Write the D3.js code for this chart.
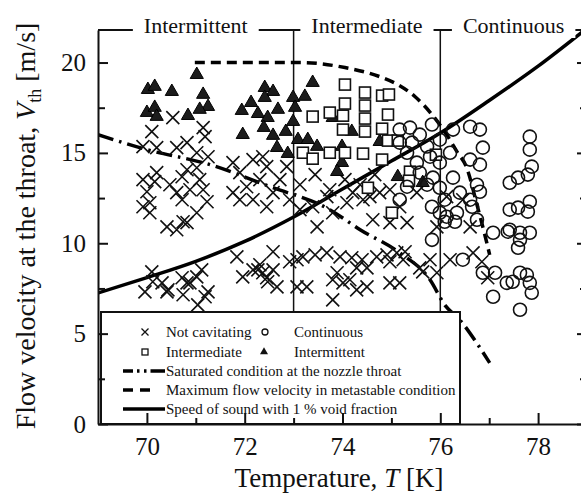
<!DOCTYPE html>
<html>
<head>
<meta charset="utf-8">
<script src="https://cdn.jsdelivr.net/npm/d3@7"></script>
<style>
  body { margin: 0; background: #fff; }
  svg { display: block; }
  text { font-family: "Liberation Serif", "Times New Roman", serif; fill: #111; }
</style>
</head>
<body>
<div id="chart"></div>
<script>
// Data: [temperature T (K), flow velocity V_th (m/s)]
const notCavitating = [
  [70.53,16.95],[70.10,16.18],[69.92,15.35],[70.20,15.29],[70.61,15.29],[70.82,15.57],[71.15,16.40],
  [71.19,15.90],[71.02,15.01],[71.25,14.79],[69.92,13.52],[70.16,13.41],[70.00,12.85],[70.47,13.24],
  [70.72,13.68],[70.82,14.07],[71.02,14.18],[71.08,13.52],[70.88,12.96],[70.61,12.80],[70.72,12.41],
  [71.15,12.96],[71.23,12.30],[69.92,12.02],[70.06,11.69],[70.41,10.91],[70.61,10.75],[70.82,11.14],
  [71.02,11.69],[70.20,13.91],[70.06,12.24],[70.74,11.19],
  [70.10,8.42],[69.96,7.31],[70.41,7.31],[70.82,7.81],[71.02,8.14],[71.04,6.59],[71.25,7.31],
  [70.74,7.15],[70.12,7.87],[70.31,7.81],[71.12,8.53],[70.88,7.81],[70.72,8.09],[71.19,7.04],[70.43,7.42],
  [71.84,9.25],[71.96,8.14],[72.17,8.53],[72.31,8.81],[72.58,9.53],[72.45,8.09],[72.66,7.59],
  [72.37,8.37],[72.92,8.98],[72.58,8.53],[72.27,8.53],[72.47,7.87],
  [71.76,14.46],[71.90,13.91],[72.17,14.63],[72.31,13.52],[71.90,12.41],[72.17,12.41],[72.45,12.02],
  [72.58,12.80],[72.72,13.52],[72.86,14.24],[72.45,14.24],[72.04,13.13],[72.37,14.79],[71.76,12.80],[72.92,12.41],
  [73.07,9.09],[73.19,9.25],[73.44,9.36],[73.68,9.47],[73.95,9.25],[74.19,9.20],[74.40,9.09],[74.70,9.25],
  [74.91,9.36],[75.11,9.47],[75.28,9.53],[74.97,8.98],[75.24,9.09],[74.50,8.64],[74.29,8.64],[73.89,8.37],
  [73.07,7.59],[73.27,7.59],[73.80,7.98],[74.01,7.81],[74.29,7.42],[74.50,7.59],[74.97,7.81],[75.17,7.81],
  [73.80,6.87],[74.15,7.98],[75.64,8.42],[75.79,9.09],[76.20,9.09],[75.93,8.37],[76.67,9.47],[76.85,8.98],
  [76.97,8.09],[75.58,8.64],
  [73.13,11.86],[73.39,12.02],[73.80,11.69],[74.09,12.24],[74.42,12.41],[74.62,11.30],[74.97,11.14],
  [75.17,12.02],[75.32,11.14],[75.52,12.80],[74.56,12.58],[75.93,10.91],[76.13,12.58],[76.46,12.41],
  [76.61,10.91],[73.68,12.58],[74.21,12.80],[74.76,12.80],[73.48,10.91],
  [73.13,13.24],[73.44,13.80],[73.74,12.96],[74.05,13.52],[74.36,13.24],[74.66,13.80],[74.97,12.96]
];
const continuous = [
  [75.83,16.57],[75.38,16.40],[75.58,16.01],[75.99,15.73],[76.26,16.29],[76.61,16.45],[76.81,16.29],
  [76.87,15.29],[76.61,14.63],[76.81,14.35],[76.20,15.01],[75.99,14.46],[76.26,13.63],[75.99,13.07],
  [75.85,13.63],[75.73,13.24],[75.32,13.13],[75.17,12.41],[76.75,13.24],[76.81,12.85],[76.61,12.41],
  [77.42,13.35],[75.17,16.29],[75.42,15.57],[76.65,12.02],[76.75,11.30],[76.40,12.80],[76.09,12.41],
  [75.99,11.69],[76.09,11.19],[75.83,12.02],[75.83,10.19],[76.34,11.69],[77.59,13.63],[77.79,13.80],
  [77.87,14.24],[77.83,15.18],[77.83,15.90],[77.42,11.86],[77.59,11.97],[77.83,12.30],[77.79,11.75],
  [77.42,10.75],[77.63,10.58],[77.83,10.58],[77.08,10.58],[75.58,13.91],[75.52,14.46],[75.73,15.35],
  [75.32,15.01],[75.79,14.79],[76.13,11.47],[76.30,11.19],[77.38,10.64],[77.63,10.19],[77.59,9.75],
  [76.46,9.09],[77.12,8.37],[77.36,7.81],[77.63,8.37],[77.83,7.81],[77.87,7.26],[77.08,7.04],
  [77.63,6.32],[77.48,7.87],[77.77,8.25],[76.87,8.37],[75.17,15.57]
];
const intermediate = [
  [74.05,18.78],[74.46,18.34],[74.81,18.17],[74.95,18.23],[73.39,17.01],[73.74,17.23],[74.05,17.73],
  [74.01,17.06],[74.46,17.62],[74.46,16.90],[74.93,17.12],[74.01,16.29],[74.46,16.18],[74.81,16.34],
  [74.93,15.68],[75.13,15.68],[73.19,15.01],[73.39,14.68],[73.74,15.01],[74.05,15.01],[74.42,14.96],
  [74.81,14.63],[75.38,13.96],[75.36,13.46],[75.91,14.90],[74.52,13.07],[75.01,11.69]
];
const intermittent = [
  [71.02,19.33],[70.02,18.50],[70.16,18.67],[70.51,18.39],[71.15,18.23],[71.25,17.56],[70.00,17.23],
  [70.16,17.51],[70.20,17.01],[70.84,17.06],[71.08,17.40],[71.94,17.34],[72.13,17.78],[72.41,18.61],
  [72.58,18.39],[72.41,18.06],[72.27,17.17],[72.47,16.95],[72.68,17.40],[72.99,18.06],[71.96,16.01],
  [72.39,16.40],[72.58,15.96],[72.84,16.18],[72.99,16.73],[72.66,15.29],[72.88,14.96],[73.09,15.73],
  [73.39,18.89],[73.23,18.12],[73.03,17.51],[73.29,15.73],[73.48,15.35],[73.99,15.35],[73.99,14.46],
  [73.89,13.96],[74.19,16.18],[73.80,16.95],[74.76,15.62],[75.13,13.68],[75.64,13.35]
];

// Curves
const saturatedLine = [
  [69.0,16.01],[70.0,15.18],[71.29,14.35],[72.52,13.13],[73.74,11.86],[74.36,10.75],[75.17,9.47],
  [75.79,7.98],[76.09,6.59],[76.40,5.76],[76.77,4.38],[77.01,3.38]
];
const metastableLine = [
  [70.98,20.0],[73.13,20.0],[74.05,19.72],[74.76,19.22],[75.13,18.78],[75.48,18.12],[75.83,17.12],
  [76.13,16.01],[76.34,15.07],[76.54,14.18],[76.75,12.13],[76.91,10.47],[77.01,9.36]
];
const soundSpeedLine = [
  [69,7.25],[70,8.1],[71,9.0],[72,10.1],[73,11.45],[74,13.0],[75,14.55],[76,16.1],[77,17.9],[78,19.8],[79,21.9]
];

// Axes and regions
const xMajorTicks = [70, 72, 74, 76, 78];
const xMinorTicks = [71, 73, 75, 77];
const yMajorTicks = [0, 5, 10, 15, 20];
const yMinorTicks = [2.5, 7.5, 12.5, 17.5];
const regionBounds = [73, 76];
const regionLabels = ["Intermittent", "Intermediate", "Continuous"];
const regionCenters = [71, 74.5, 77.5];

const width = 581, height = 499;

const svg = d3.select("#chart").append("svg")
  .attr("width", width)
  .attr("height", height);

const x = d3.scaleLinear().domain([69, 79]).range([98, 587]);
const y = d3.scaleLinear().domain([0, 21.8]).range([424, 30]);

// clip to the frame
svg.append("defs").append("clipPath").attr("id", "clip")
  .append("rect")
  .attr("x", x(69)).attr("y", y(21.8))
  .attr("width", x(79) - x(69)).attr("height", y(0) - y(21.8));

const plot = svg.append("g").attr("clip-path", "url(#clip)");

// region boundaries
plot.selectAll(".region-line")
  .data(regionBounds)
  .enter().append("line")
  .attr("x1", d => x(d)).attr("x2", d => x(d))
  .attr("y1", y(21.8)).attr("y2", y(0))
  .attr("stroke", "#111").attr("stroke-width", 1.5);

// curves
const line = d3.line()
  .x(d => x(d[0]))
  .y(d => y(d[1]))
  .curve(d3.curveMonotoneX);

plot.append("path").datum(soundSpeedLine)
  .attr("d", line).attr("fill", "none")
  .attr("stroke", "#000").attr("stroke-width", 3.5);

plot.append("path").datum(metastableLine)
  .attr("d", line).attr("fill", "none")
  .attr("stroke", "#000").attr("stroke-width", 3.5)
  .attr("stroke-dasharray", "10,6");

plot.append("path").datum(saturatedLine)
  .attr("d", line).attr("fill", "none")
  .attr("stroke", "#000").attr("stroke-width", 3.5)
  .attr("stroke-dasharray", "16,6,2.5,6");

// markers
plot.selectAll(".nc")
  .data(notCavitating)
  .enter().append("path")
  .attr("transform", d => `translate(${x(d[0])},${y(d[1])})`)
  .attr("d", "M-6.5,-6.5L6.5,6.5M-6.5,6.5L6.5,-6.5")
  .attr("stroke", "#111").attr("stroke-width", 1.6).attr("fill", "none");

plot.selectAll(".tri")
  .data(intermittent)
  .enter().append("path")
  .attr("transform", d => `translate(${x(d[0])},${y(d[1])})`)
  .attr("d", d3.symbol(d3.symbolTriangle, 75))
  .attr("fill", "#1c1c1c").attr("stroke", "#000").attr("stroke-width", 1);

plot.selectAll(".sq")
  .data(intermediate)
  .enter().append("rect")
  .attr("x", d => x(d[0]) - 5.5).attr("y", d => y(d[1]) - 5.5)
  .attr("width", 11).attr("height", 11)
  .attr("fill", "#fff").attr("stroke", "#111").attr("stroke-width", 1.6);

plot.selectAll(".ci")
  .data(continuous)
  .enter().append("circle")
  .attr("cx", d => x(d[0])).attr("cy", d => y(d[1]))
  .attr("r", 6.5)
  .attr("fill", "none").attr("stroke", "#111").attr("stroke-width", 1.6);

// legend
const legend = svg.append("g");
legend.append("rect")
  .attr("x", 101).attr("y", 312).attr("width", 359).attr("height", 112)
  .attr("fill", "#fff").attr("stroke", "#111").attr("stroke-width", 2);

const rowY = [332, 352, 371, 390, 409];
const legendText = (tx, ty, s) => legend.append("text")
  .attr("x", tx).attr("y", ty + 5).attr("font-size", 15).text(s);

legend.append("path").attr("transform", `translate(145,${rowY[0]})`)
  .attr("d", "M-3.5,-3.5L3.5,3.5M-3.5,3.5L3.5,-3.5")
  .attr("stroke", "#111").attr("stroke-width", 1.3);
legendText(166, rowY[0], "Not cavitating");
legend.append("circle").attr("cx", 265).attr("cy", rowY[0]).attr("r", 3)
  .attr("fill", "none").attr("stroke", "#111").attr("stroke-width", 1.3);
legendText(294, rowY[0], "Continuous");

legend.append("rect").attr("x", 142).attr("y", rowY[1] - 3).attr("width", 6).attr("height", 6)
  .attr("fill", "none").attr("stroke", "#111").attr("stroke-width", 1.3);
legendText(166, rowY[1], "Intermediate");
legend.append("path").attr("transform", `translate(264,${rowY[1]})`)
  .attr("d", d3.symbol(d3.symbolTriangle, 28)).attr("fill", "#111");
legendText(294, rowY[1], "Intermittent");

legend.append("line").attr("x1", 123).attr("x2", 165).attr("y1", rowY[2]).attr("y2", rowY[2])
  .attr("stroke", "#000").attr("stroke-width", 3.5).attr("stroke-dasharray", "10,4,2.5,4.5,2.5,4,20");
legendText(166, rowY[2], "Saturated condition at the nozzle throat");

legend.append("line").attr("x1", 123).attr("x2", 150).attr("y1", rowY[3]).attr("y2", rowY[3])
  .attr("stroke", "#000").attr("stroke-width", 3.5).attr("stroke-dasharray", "10,7");
legendText(166, rowY[3], "Maximum flow velocity in metastable condition");

legend.append("line").attr("x1", 123).attr("x2", 165).attr("y1", rowY[4]).attr("y2", rowY[4])
  .attr("stroke", "#000").attr("stroke-width", 3.5);
legendText(166, rowY[4], "Speed of sound with 1 % void fraction");

// axes
const styleAxis = g => {
  g.select(".domain").attr("stroke", "#111").attr("stroke-width", 2);
  g.selectAll(".tick line").attr("stroke", "#111").attr("stroke-width", 2);
  g.selectAll(".tick text").attr("font-family", "Liberation Serif, serif")
    .attr("font-size", 25).attr("fill", "#111");
};

svg.append("g")
  .attr("transform", `translate(${x(69)},0)`)
  .call(d3.axisLeft(y).tickValues(yMajorTicks).tickSize(-10).tickSizeOuter(0).tickPadding(12))
  .call(styleAxis);
svg.append("g")
  .attr("transform", `translate(${x(69)},0)`)
  .call(d3.axisLeft(y).tickValues(yMinorTicks).tickSize(-7).tickSizeOuter(0).tickFormat(""))
  .call(styleAxis).call(g => g.select(".domain").remove());

svg.append("g")
  .attr("transform", `translate(${x(79)},0)`)
  .call(d3.axisRight(y).tickValues(yMajorTicks).tickSize(-10).tickSizeOuter(0).tickFormat(""))
  .call(styleAxis);
svg.append("g")
  .attr("transform", `translate(${x(79)},0)`)
  .call(d3.axisRight(y).tickValues(yMinorTicks).tickSize(-7).tickSizeOuter(0).tickFormat(""))
  .call(styleAxis).call(g => g.select(".domain").remove());

svg.append("g")
  .attr("transform", `translate(0,${y(0)})`)
  .call(d3.axisBottom(x).tickValues(xMajorTicks).tickSize(-11).tickSizeOuter(0).tickPadding(13))
  .call(styleAxis);
svg.append("g")
  .attr("transform", `translate(0,${y(0)})`)
  .call(d3.axisBottom(x).tickValues(xMinorTicks).tickSize(-6).tickSizeOuter(0).tickFormat(""))
  .call(styleAxis).call(g => g.select(".domain").remove());

// top frame with region labels
svg.append("line")
  .attr("x1", x(69)).attr("x2", x(79)).attr("y1", y(21.8)).attr("y2", y(21.8))
  .attr("stroke", "#111").attr("stroke-width", 2);

regionLabels.forEach((label, i) => {
  const t = svg.append("text")
    .attr("x", x(regionCenters[i])).attr("y", 33)
    .attr("text-anchor", "middle").attr("font-size", 22)
    .text(label);
  const bb = t.node().getBBox();
  svg.insert("rect", () => t.node())
    .attr("x", bb.x - 11).attr("y", bb.y).attr("width", bb.width + 22).attr("height", bb.height)
    .attr("fill", "#fff");
});

// axis titles
const xTitle = svg.append("text")
  .attr("x", 339).attr("y", 487)
  .attr("text-anchor", "middle").attr("font-size", 27);
xTitle.append("tspan").text("Temperature, ");
xTitle.append("tspan").attr("font-style", "italic").text("T");
xTitle.append("tspan").text(" [K]");

const yTitle = svg.append("text")
  .attr("transform", "translate(35,226) rotate(-90)")
  .attr("text-anchor", "middle").attr("font-size", 28);
yTitle.append("tspan").text("Flow velocity at the throat, ");
yTitle.append("tspan").attr("font-style", "italic").text("V");
yTitle.append("tspan").attr("font-size", 18).attr("dy", 6).text("th");
yTitle.append("tspan").attr("dy", -6).text(" [m/s]");
</script>
</body>
</html>
